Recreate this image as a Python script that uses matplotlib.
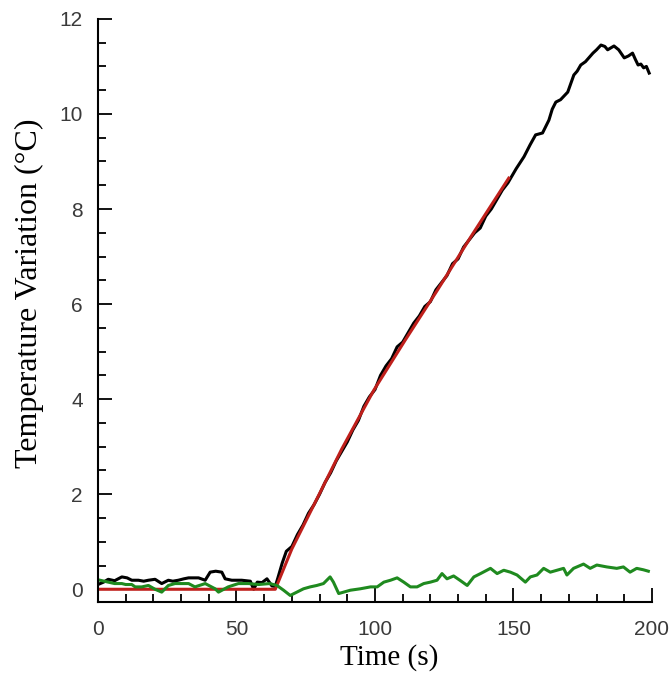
import numpy as np
import matplotlib
matplotlib.use('Agg')
import matplotlib.pyplot as plt
from matplotlib.ticker import MultipleLocator

# black trace: measured temperature variation
black_t = [0, 2, 3.7, 6, 8.6, 10.5, 12.2, 14.6, 16.5, 18.2, 20.6, 23, 25.4, 27, 29, 31,
           32.7, 36.3, 38.7, 40.5, 42.5, 44.7, 45.9, 48.3, 51.9, 55, 56.2, 57.5, 59.2, 61,
           62.8, 64, 65, 66.5, 68, 70, 72, 74, 76, 78, 80, 82, 84, 86, 88, 90, 92, 94, 96,
           98, 100, 102, 104, 106, 108, 110, 112, 114, 116, 118, 120, 122, 124, 126, 128,
           130, 132, 134, 136, 138, 140, 142, 144, 146, 148, 149.7, 151, 153.8, 156, 158,
           160.5, 162.8, 164, 165.3, 167, 169.6, 171.8, 173, 174.3, 176, 178.7, 180, 181.6,
           183, 184, 186.3, 188, 190, 191.5, 193, 194, 195, 196, 197, 198, 199]
black_v = [0.10, 0.15, 0.21, 0.18, 0.26, 0.24, 0.19, 0.19, 0.17, 0.19, 0.21, 0.12, 0.19, 0.17,
           0.19, 0.22, 0.24, 0.24, 0.19, 0.36, 0.38, 0.36, 0.22, 0.19, 0.19, 0.17, 0.0, 0.15,
           0.14, 0.22, 0.07, 0.06, 0.25, 0.55, 0.80, 0.90, 1.15, 1.35, 1.60, 1.78, 2.00, 2.25,
           2.45, 2.70, 2.90, 3.10, 3.35, 3.55, 3.85, 4.05, 4.20, 4.50, 4.70, 4.85, 5.10, 5.20,
           5.40, 5.60, 5.75, 5.95, 6.05, 6.30, 6.45, 6.60, 6.85, 6.95, 7.20, 7.35, 7.50, 7.60,
           7.85, 8.00, 8.20, 8.40, 8.55, 8.72, 8.85, 9.10, 9.35, 9.56, 9.60, 9.87, 10.10,
           10.25, 10.30, 10.46, 10.82, 10.90, 11.03, 11.10, 11.28, 11.35, 11.45, 11.42, 11.35,
           11.43, 11.35, 11.18, 11.22, 11.28, 11.15, 11.03, 11.05, 10.97, 11.00, 10.86]

# green trace: reference
green_t = [0, 1.5, 3.7, 6, 8.6, 10, 12.2, 13.4, 15.8, 18.2, 20.6, 23, 25.4, 27.8, 32.7, 35,
           38.7, 42.3, 43.5, 47, 50.7, 54.3, 58, 62, 64.6, 67, 69.4, 71.8, 74.2, 76.6, 79,
           81.4, 83.8, 85, 86.9, 88.7, 91.1, 94.7, 98.4, 100.8, 103.2, 105.6, 108, 110.4,
           112.8, 115.2, 117.6, 120, 122.4, 124.2, 126, 128.4, 130.9, 133.3, 135.7, 138.1,
           141.7, 144.1, 146.5, 148.9, 151.3, 154.3, 156.1, 158.5, 160.9, 163.3, 165.7,
           168.1, 169.3, 171.7, 175.3, 177.7, 180.1, 183.7, 187.3, 189.7, 192.1, 194.5,
           196.9, 198.7]
green_v = [0.20, 0.18, 0.15, 0.12, 0.12, 0.10, 0.10, 0.05, 0.05, 0.08, 0.0, -0.06, 0.08, 0.12,
           0.12, 0.05, 0.12, 0.01, -0.06, 0.05, 0.12, 0.12, 0.10, 0.12, 0.08, -0.02, -0.13,
           -0.06, 0.01, 0.05, 0.08, 0.12, 0.26, 0.15, -0.09, -0.06, -0.02, 0.01, 0.05, 0.05,
           0.15, 0.19, 0.24, 0.15, 0.05, 0.05, 0.12, 0.15, 0.19, 0.33, 0.22, 0.28, 0.18, 0.08,
           0.26, 0.33, 0.44, 0.33, 0.40, 0.36, 0.30, 0.15, 0.26, 0.30, 0.44, 0.36, 0.40, 0.44,
           0.30, 0.44, 0.53, 0.44, 0.51, 0.47, 0.44, 0.47, 0.36, 0.44, 0.41, 0.38]

# red trace: fit
red_t = [0, 64, 70, 77.3, 88, 99.6, 111, 122.5, 135, 148.3]
red_v = [0, 0, 0.85, 1.70, 2.95, 4.19, 5.25, 6.29, 7.45, 8.65]

fig = plt.figure(figsize=(6.69, 6.75), dpi=100)
ax = fig.add_axes([0.1465, 0.108, 0.828, 0.864])

ax.plot(black_t, black_v, color='black', lw=2.2)
ax.plot(red_t, red_v, color='#bf1f1b', lw=2.2)
ax.plot(green_t, green_v, color='#1f8a1f', lw=2.2)

ax.set_xlim(0, 200)
ax.set_ylim(-0.27, 12)
ax.xaxis.set_major_locator(MultipleLocator(50))
ax.xaxis.set_minor_locator(MultipleLocator(10))
ax.yaxis.set_major_locator(MultipleLocator(2))
ax.yaxis.set_minor_locator(MultipleLocator(0.5))

for side in ['top', 'right']:
    ax.spines[side].set_visible(False)
for side in ['left', 'bottom']:
    ax.spines[side].set_linewidth(1.5)

ax.tick_params(which='both', direction='in', width=1.3, colors='black', labelcolor='#3a3a3a')
ax.tick_params(which='major', length=10, labelsize=15)
ax.tick_params(axis='y', which='major', pad=11)
ax.tick_params(axis='x', which='major', pad=13)
ax.tick_params(which='minor', length=6)
for lab in ax.get_xticklabels() + ax.get_yticklabels():
    lab.set_family('Liberation Sans')

ax.set_xlabel('Time (s)', family='Liberation Serif', fontsize=21)
ax.set_ylabel('Temperature Variation (°C)', family='Liberation Serif', fontsize=23)
ax.xaxis.set_label_coords(0.525, -0.072)
ax.yaxis.set_label_coords(-0.097, 0.53)

fig.savefig('out.png', dpi=100)
